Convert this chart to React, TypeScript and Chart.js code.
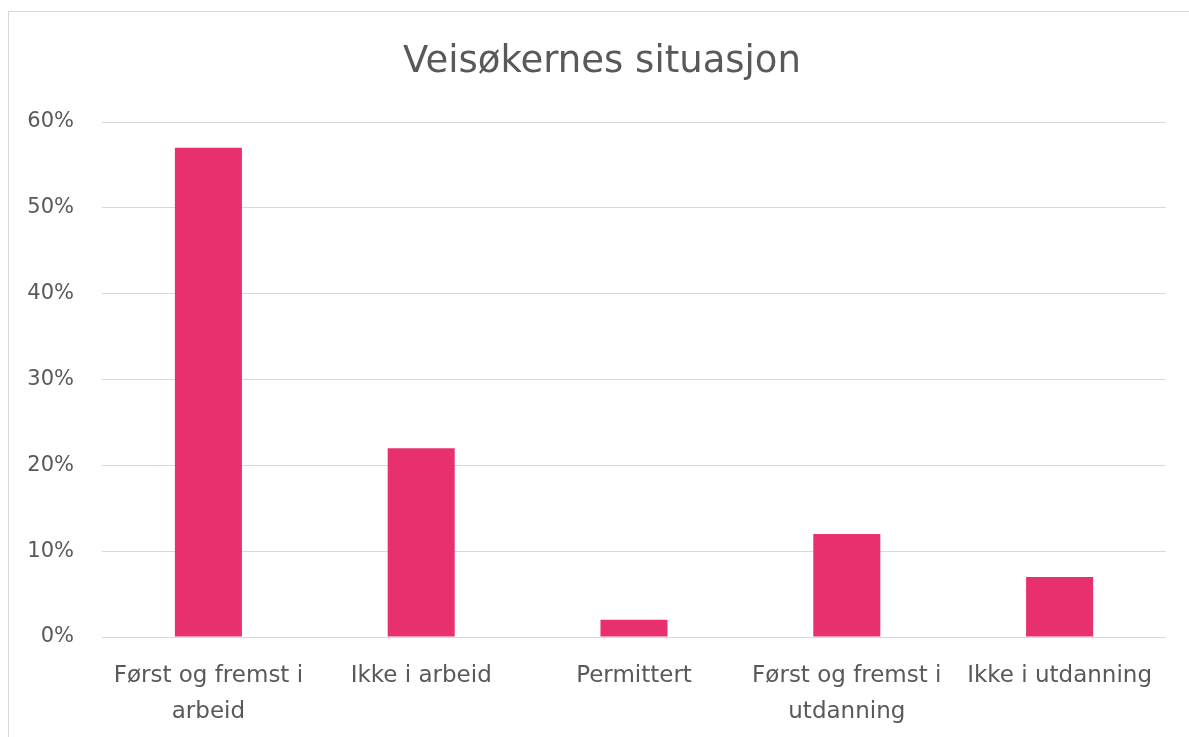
import React, { useEffect, useRef } from "react";
import { Chart, registerables } from "chart.js";

Chart.register(...registerables);

const title = "Veisøkernes situasjon";
const categories: (string | string[])[] = [
  ["Først og fremst i", "arbeid"],
  "Ikke i arbeid",
  "Permittert",
  ["Først og fremst i", "utdanning"],
  "Ikke i utdanning",
];
const shares = [57, 22, 2, 12, 7];
const yTicks = [0, 10, 20, 30, 40, 50, 60];

const FONT = "'DejaVu Sans', sans-serif";
const TEXT = "#595959";

export default function App() {
  const ref = useRef<HTMLCanvasElement | null>(null);

  useEffect(() => {
    document.body.style.overflow = "hidden";
    const ctx = ref.current;
    if (!ctx) return;
    const chart = new Chart(ctx, {
      type: "bar",
      data: {
        labels: categories,
        datasets: [
          {
            data: shares,
            backgroundColor: "#E8306F",
            categoryPercentage: 1,
            barPercentage: 0.315,
          },
        ],
      },
      options: {
        animation: false,
        responsive: false,
        devicePixelRatio: 1,
        layout: { padding: { left: 0, right: 23, top: 122, bottom: 0 } },
        plugins: {
          legend: { display: false },
          tooltip: { enabled: false },
          title: { display: false },
        },
        scales: {
          x: {
            grid: { display: false, drawTicks: false },
            border: { display: false },
            ticks: {
              color: TEXT,
              font: { family: FONT, size: 23, lineHeight: 1.565 },
              padding: 21,
              maxRotation: 0,
              autoSkip: false,
            },
            afterFit: (s: any) => {
              s.height = 100;
            },
          },
          y: {
            min: 0,
            max: 60,
            afterBuildTicks: (s: any) => {
              s.ticks = yTicks.map((v) => ({ value: v }));
            },
            grid: { color: "#d9d9d9", lineWidth: 1, drawTicks: false },
            border: { display: false },
            ticks: {
              color: TEXT,
              font: { family: FONT, size: 21 },
              padding: 28,
              callback: (v: any) => v + "%",
            },
            afterFit: (s: any) => {
              s.width = 102;
            },
          },
        },
      },
    });
    return () => chart.destroy();
  }, []);

  return (
    <div>
      <div
        style={{
          position: "fixed",
          left: 8,
          top: 11,
          width: 1300,
          height: 900,
          border: "1px solid #d9d9d9",
          boxSizing: "border-box",
        }}
      />
      <canvas
        ref={ref}
        width={1189}
        height={737}
        style={{ position: "fixed", left: 0, top: 0, width: 1189, height: 737 }}
      />
      <div
        style={{
          position: "fixed",
          left: 0,
          top: 38,
          width: 1204,
          textAlign: "center",
          fontFamily: FONT,
          fontSize: 37,
          lineHeight: "44px",
          color: TEXT,
          whiteSpace: "nowrap",
        }}
      >
        {title}
      </div>
    </div>
  );
}
